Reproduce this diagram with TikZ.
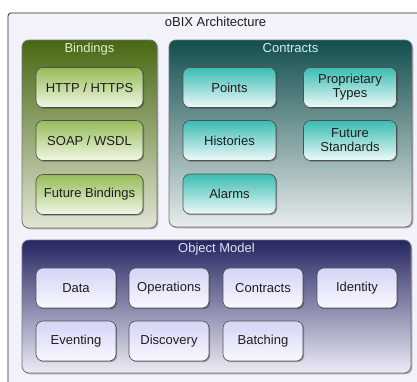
\documentclass[tikz,border=0pt]{standalone}
\usepackage{fontspec}
\setmainfont{Liberation Sans}
\usetikzlibrary{shadows}

\definecolor{frameline}{RGB}{40,40,40}
\definecolor{framefill}{RGB}{242,242,250}
\definecolor{panelline}{RGB}{115,115,115}
\definecolor{boxline}{RGB}{80,80,80}
\definecolor{boxtext}{RGB}{30,30,30}
% Bindings (green)
\definecolor{bindtop}{RGB}{72,104,18}
\definecolor{bindbot}{RGB}{226,229,212}
\definecolor{bindboxtop}{RGB}{148,188,88}
\definecolor{bindboxbot}{RGB}{242,247,228}
\definecolor{bindtitle}{RGB}{226,236,205}
% Contracts (teal)
\definecolor{conttop}{RGB}{18,78,78}
\definecolor{contbot}{RGB}{232,236,236}
\definecolor{contboxtop}{RGB}{58,188,178}
\definecolor{contboxbot}{RGB}{238,249,249}
\definecolor{conttitle}{RGB}{215,238,238}
% Object model (navy)
\definecolor{objtop}{RGB}{38,38,98}
\definecolor{objbot}{RGB}{236,236,246}
\definecolor{objboxtop}{RGB}{212,212,246}
\definecolor{objboxbot}{RGB}{249,249,255}
\definecolor{objtitle}{RGB}{225,225,242}

\begin{document}
\begin{tikzpicture}[x=1pt,y=-1pt,
  txt/.style={font=\fontsize{13}{14}\selectfont},
  panel/.style={draw=panelline, line width=0.8pt, rounded corners=7pt,
    rectangle, inner sep=0pt,
    drop shadow={shadow xshift=1.3pt, shadow yshift=-1.3pt, opacity=0.3, fill=black}},
  item/.style={draw=boxline, line width=0.6pt, rounded corners=7pt,
    rectangle, inner sep=0pt, align=center, txt, text=boxtext,
    drop shadow={shadow xshift=1.2pt, shadow yshift=-1.2pt, opacity=0.3, fill=black}},
  bindpanel/.style={panel, top color=bindtop, bottom color=bindbot},
  contpanel/.style={panel, top color=conttop, bottom color=contbot},
  objpanel/.style={panel, top color=objtop, bottom color=objbot},
  binditem/.style={item, top color=bindboxtop, bottom color=bindboxbot,
    minimum width=107pt, minimum height=40pt},
  contitem/.style={item, top color=contboxtop, bottom color=contboxbot,
    minimum width=93pt, minimum height=40pt},
  objitem/.style={item, top color=objboxtop, bottom color=objboxbot,
    minimum width=80pt, minimum height=40pt},
  heading/.style={txt, anchor=base}]

\useasboundingbox (0,0) rectangle (417,381);
\clip (0,0) rectangle (417,381);

% outer frame, running off the right and bottom edges
\draw[frameline, fill=framefill, line width=0.8pt, rounded corners=3pt]
  (8,13) rectangle (440,400);
\node[heading, text=boxtext] (arch) at (215.5,26.5) {oBIX Architecture};

% panels
\node[bindpanel, minimum width=135pt, minimum height=188pt] (bindings) at (89.5,134) {};
\node[contpanel, minimum width=243pt, minimum height=187pt] (contracts) at (290.5,133.5) {};
\node[objpanel, minimum width=389pt, minimum height=133pt] (objmodel) at (216.5,306.5) {};

\node[heading, text=bindtitle] (bindtitle) at (89.5,52.5) {Bindings};
\node[heading, text=conttitle] (conttitle) at (290.5,52.5) {Contracts};
\node[heading, text=objtitle] (objtitle) at (216.5,252.5) {Object Model};

% bindings
\node[binditem] (http) at (89.5,87.5) {HTTP / HTTPS};
\node[binditem] (soap) at (89.5,140.5) {SOAP / WSDL};
\node[binditem] (futbind) at (89.5,194.5) {Future Bindings};

% contracts
\node[contitem] (points) at (229.5,87.5) {Points};
\node[contitem] (proptypes) at (350,87.5) {Proprietary\\Types};
\node[contitem] (histories) at (229.5,140.5) {Histories};
\node[contitem] (futstd) at (350,140.5) {Future\\Standards};
\node[contitem] (alarms) at (229.5,194) {Alarms};

% object model
\node[objitem] (data) at (76,288) {Data};
\node[objitem] (operations) at (169,288) {Operations};
\node[objitem] (omcontracts) at (263,288) {Contracts};
\node[objitem] (identity) at (357,288) {Identity};
\node[objitem] (eventing) at (76,341) {Eventing};
\node[objitem] (discovery) at (169,341) {Discovery};
\node[objitem] (batching) at (263,341) {Batching};
\end{tikzpicture}
\end{document}
